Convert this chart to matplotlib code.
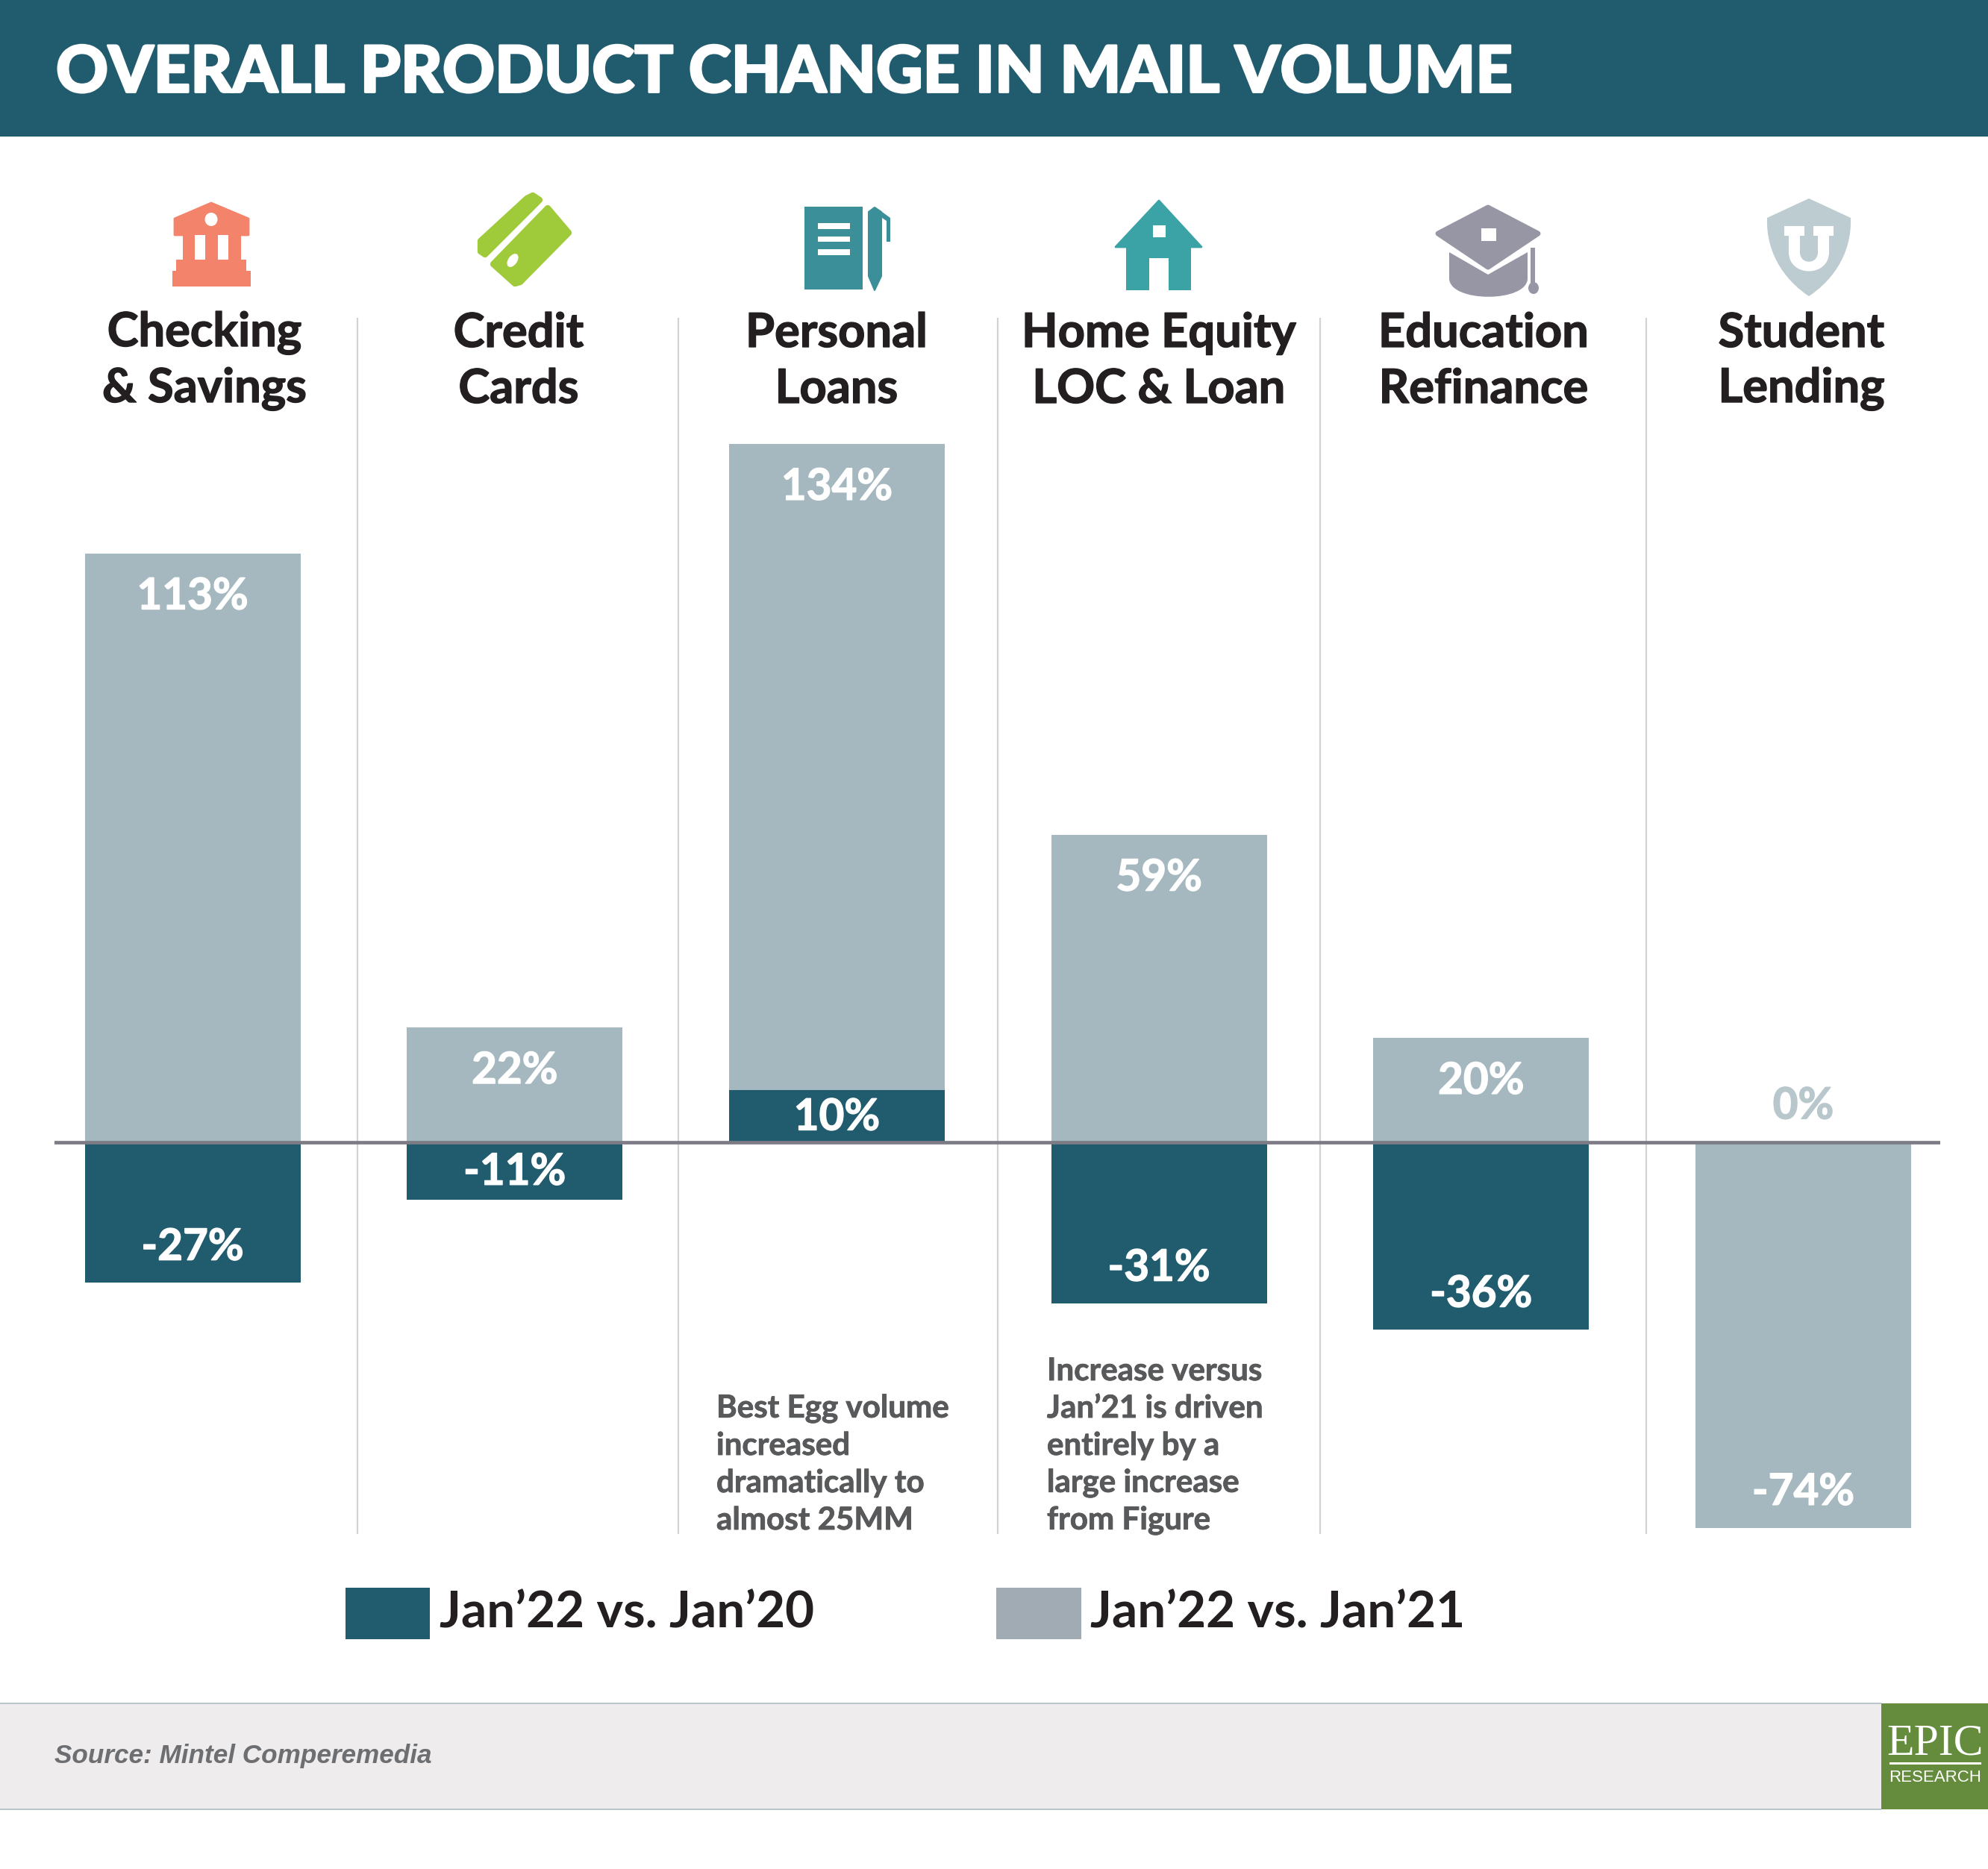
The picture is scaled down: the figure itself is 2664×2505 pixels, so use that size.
import matplotlib
matplotlib.use('Agg')
import matplotlib.pyplot as plt
import matplotlib.patheffects as pe
from matplotlib.patches import Rectangle, Polygon, Ellipse, PathPatch
from matplotlib.path import Path

W, H = 2664, 2505
plt.rcParams['font.family'] = ['Lato', 'DejaVu Sans']

title = "OVERALL PRODUCT CHANGE IN MAIL VOLUME"
categories = ["Checking\n& Savings", "Credit\nCards", "Personal\nLoans",
              "Home Equity\nLOC & Loan", "Education\nRefinance", "Student\nLending"]
vs_jan20 = [-27, -11, 10, -31, -36, 0]
vs_jan21 = [113, 22, 134, 59, 20, -74]
legend_labels = ["Jan’22 vs. Jan’20", "Jan’22 vs. Jan’21"]
note_loans = ["Best Egg volume", "increased", "dramatically to", "almost 25MM"]
note_home = ["Increase versus", "Jan’21 is driven", "entirely by a", "large increase", "from Figure"]
source = "Source: Mintel Comperemedia"

DARK = '#215C6E'
LIGHT = '#A6B8BF'
TEAL = '#3B8F99'


def heavy(width):
    # 文字を少し太らせる
    return [pe.withStroke(linewidth=width)]


fig = plt.figure(figsize=(W / 100, H / 100), dpi=100, facecolor='white')

# 飾り用(ピクセル座標)
bg = fig.add_axes([0, 0, 1, 1], zorder=0)
bg.set_xlim(0, W)
bg.set_ylim(H, 0)
bg.axis('off')

# ヘッダー
bg.add_patch(Rectangle((0, 0), W, 183, color=DARK, lw=0))
t = bg.text(75, 99, title, color='white', fontsize=62.2, fontweight='black', va='center', ha='left')
t.set_path_effects([pe.withStroke(linewidth=2.0, foreground='white')])


def poly(points, color, lw=0.0):
    bg.add_patch(Polygon(points, closed=True, facecolor=color, edgecolor=color, lw=lw, joinstyle='round'))


def box(x0, y0, x1, y1, color):
    bg.add_patch(Rectangle((x0, y0), x1 - x0, y1 - y0, color=color, lw=0))


# 銀行
c = '#F3836B'
poly([(283, 272), (333, 293), (333, 315), (234, 315), (234, 293)], c, 2)
box(245, 315, 323, 350, c)
box(261, 315, 275, 348, 'white')
box(292, 315, 306, 348, 'white')
box(236, 348, 330, 365, c)
box(231, 363, 336, 384, c)
bg.add_patch(Ellipse((283, 294), 17, 18, color='white', lw=0))

# カード
c = '#9FCB3B'
poly([(706, 266), (714, 262), (723, 268), (650, 341), (644, 337), (644, 323)], c, 6)
poly([(734, 279), (762, 312), (697, 378), (690, 380), (661, 354)], c, 6)
bg.add_patch(Ellipse((687, 349), 12, 20, angle=35, color='white', lw=0))

# ノート
box(1078, 277, 1156, 388, TEAL)
for y0, y1 in [(299, 307), (317, 324), (334, 342)]:
    box(1096, y0, 1139, y1, 'white')
poly([(1164, 284), (1172, 278), (1181, 284), (1181, 370), (1172, 389), (1164, 370)], TEAL, 1.5)
poly([(1182, 284), (1193, 292), (1193, 324), (1188, 324), (1188, 296), (1182, 292)], TEAL)

# 家
c = '#3BA3A6'
poly([(1553, 269), (1610, 331), (1495, 331)], c, 2)
box(1509, 331, 1596, 389, c)
box(1540, 346, 1566, 390, 'white')
box(1545, 302, 1562, 318, 'white')

# 卒業帽
c = '#9796A4'
poly([(1994, 278), (2061, 313), (1994, 358), (1927, 313)], c, 5)
box(1985, 306, 2005, 323, 'white')
cap = Path([(1942, 338), (1994, 368), (2047, 338), (2047, 373), (2047, 406), (1942, 406), (1942, 373), (1942, 338)],
           [Path.MOVETO, Path.LINETO, Path.LINETO, Path.LINETO, Path.CURVE4, Path.CURVE4, Path.CURVE4, Path.CLOSEPOLY])
bg.add_patch(PathPatch(cap, facecolor=c, lw=0))
box(2051, 332, 2057, 382, c)
bg.add_patch(Ellipse((2055, 386), 14, 16, color=c, lw=0))

# 盾
c = '#BCCCD0'
shield = Path([(2424, 266), (2480, 292), (2482, 345), (2450, 380), (2424, 397), (2398, 380), (2366, 345), (2368, 292), (2424, 266)],
              [Path.MOVETO, Path.LINETO, Path.CURVE4, Path.CURVE4, Path.LINETO, Path.CURVE4, Path.CURVE4, Path.LINETO, Path.CLOSEPOLY])
bg.add_patch(PathPatch(shield, facecolor=c, lw=0))
box(2391, 303, 2418, 316, 'white')
box(2430, 303, 2457, 316, 'white')
box(2397, 316, 2412, 340, 'white')
box(2436, 316, 2451, 340, 'white')
u = Path([(2397, 338), (2397, 372), (2451, 372), (2451, 338), (2436, 338), (2436, 355), (2412, 355), (2412, 338), (2397, 338)],
         [Path.MOVETO, Path.CURVE4, Path.CURVE4, Path.CURVE4, Path.LINETO, Path.CURVE4, Path.CURVE4, Path.CURVE4, Path.CLOSEPOLY])
bg.add_patch(PathPatch(u, facecolor='white', lw=0))

# カテゴリ名
label_x = [274, 695, 1121, 1553, 1988, 2414]
for x, name in zip(label_x, categories):
    for j, line in enumerate(name.split("\n")):
        t = bg.text(x, 447 + j * 75, line, color='#231F20', fontsize=45.5, fontweight='bold', ha='center', va='center')
        t.set_path_effects([pe.withStroke(linewidth=1.0, foreground='#231F20')])

# 棒グラフ本体
left, right, top, bottom = 73, 2600, 426, 2056
ax = fig.add_axes([left / W, 1 - bottom / H, (right - left) / W, (bottom - top) / H], zorder=1)
ax.patch.set_alpha(0)
ax.set_xlim(-0.429, 5.425)
ax.set_ylim(-75.2, 158.2)
ax.axis('off')

xs = list(range(len(categories)))
ax.bar(xs, vs_jan21, width=0.669, color=LIGHT, zorder=2)
ax.bar(xs, vs_jan20, width=0.669, color=DARK, zorder=3)
ax.axhline(0, color='#7D7C86', lw=3.4, zorder=4)
for x in [0.512, 1.508, 2.5, 3.5, 4.512]:
    ax.axvline(x, color='#D0D2D3', lw=1.6, zorder=1)


def bar_label(i, value, color='white'):
    # 短い棒は中央、それ以外は端から一定距離
    if value == 0:
        anchor, y_off = 0, 34.5
    elif abs(value) < 15:
        anchor, y_off = value / 2, -1.5
    elif value > 0:
        anchor, y_off = value, -42
    else:
        anchor, y_off = value, 34
    t = ax.annotate(f"{value}%", (i, anchor), xytext=(0, y_off), textcoords='offset points',
                    color=color, fontsize=42, fontweight='bold', ha='center', va='center', zorder=5)
    t.set_path_effects([pe.withStroke(linewidth=1.0, foreground=color)])


for i in xs:
    if vs_jan20[i] == 0:
        bar_label(i, 0, '#B8C7CC')
    else:
        bar_label(i, vs_jan20[i])
    bar_label(i, vs_jan21[i])

# 注記
for j, line in enumerate(note_loans):
    t = bg.text(960, 1888 + j * 50, line, color='#58595B', fontsize=30.3, fontweight='bold', ha='left', va='center')
    t.set_path_effects([pe.withStroke(linewidth=0.6, foreground='#58595B')])
for j, line in enumerate(note_home):
    t = bg.text(1403, 1838 + j * 50, line, color='#58595B', fontsize=30.3, fontweight='bold', ha='left', va='center')
    t.set_path_effects([pe.withStroke(linewidth=0.6, foreground='#58595B')])

# 凡例
box(463, 2128, 576, 2197, DARK)
box(1335, 2128, 1449, 2197, '#A0ABB3')
bg.text(589, 2163, legend_labels[0], color='#231F20', fontsize=48.5, fontweight='bold', ha='left', va='center')
bg.text(1461, 2163, legend_labels[1], color='#231F20', fontsize=48.5, fontweight='bold', ha='left', va='center')

# フッター
box(0, 2283, 2521, 2425, '#EEECED')
box(0, 2282, 2521, 2284, '#B9C7CB')
box(0, 2424, 2521, 2426, '#B9C7CB')
box(2521, 2283, W, 2425, '#648C3C')
bg.text(73, 2353, source, color='#6D6E71', fontsize=25.3, fontweight='bold', style='italic',
        family='Liberation Sans', ha='left', va='center')
bg.text(2593, 2337, "EPIC", color='white', fontsize=43, family='Liberation Serif', ha='center', va='center')
box(2532, 2362, 2655, 2365, 'white')
bg.text(2593, 2383, "RESEARCH", color='white', fontsize=16, family='Liberation Sans', ha='center', va='center')

fig.savefig('out.png', dpi=100)
